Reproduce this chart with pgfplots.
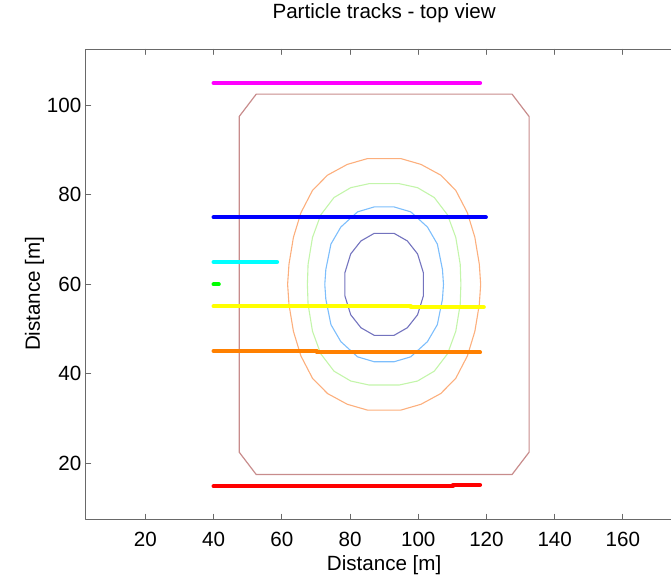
\documentclass[border=0pt]{standalone}
\usepackage{fontspec}
\setmainfont{Liberation Sans}
\usepackage{pgfplots}
\pgfplotsset{compat=1.18}

\definecolor{axgray}{RGB}{105,105,105}
\definecolor{bldg}{RGB}{200,140,140}
\definecolor{cOrange}{RGB}{252,175,125}
\definecolor{cGreen}{RGB}{195,245,170}
\definecolor{cBlue}{RGB}{125,190,252}
\definecolor{cPurple}{RGB}{115,115,190}
\definecolor{tMagenta}{RGB}{255,0,255}
\definecolor{tBlue}{RGB}{0,0,255}
\definecolor{tCyan}{RGB}{0,255,255}
\definecolor{tGreen}{RGB}{0,255,0}
\definecolor{tYellow}{RGB}{255,255,0}
\definecolor{tOrange}{RGB}{255,128,0}
\definecolor{tRed}{RGB}{255,0,0}

\begin{document}
\begin{tikzpicture}
\begin{axis}[
  at={(0,0)}, anchor=origin,
  scale only axis,
  width=298.45pt, height=234.95pt,
  xmin=2.5, xmax=177.5, ymin=7.5, ymax=112.5,
  xtick={20,40,...,160}, ytick={20,40,...,100},
  tick align=inside, major tick length=2.5pt,
  axis line style={axgray, line width=0.6pt},
  every tick/.style={axgray, line width=0.5pt},
  font=\fontsize{10.3}{12}\selectfont,
  /pgf/number format/assume math mode=true,
  xticklabel style={inner sep=0pt, anchor=base, yshift=-13.7pt},
  yticklabel style={inner sep=0pt, anchor=east, xshift=-2pt},
  xlabel={Distance [m]}, ylabel={Distance [m]},
  xlabel style={inner sep=0pt, anchor=base, at={(axis description cs:0.5,0)}, yshift=-25.7pt},
  ylabel style={inner sep=0pt, anchor=base, at={(axis description cs:0,0.48)}, yshift=22.85pt},
  title={Particle tracks - top view},
  title style={inner sep=0pt, anchor=base, at={(axis description cs:0.5,1)}, yshift=9.35pt},
  line cap=round, line join=round,
]
% building outline
\addplot[bldg, line width=0.6pt] coordinates {
  (47.5,22.5) (52.5,17.5) (127.5,17.5) (132.5,22.5) (132.5,97.5)
  (127.5,102.5) (52.5,102.5) (47.5,97.5) (47.5,22.5)};
% contours
\addplot[cOrange, line width=0.55pt] coordinates {
  (85.1,88.1) (94.9,88.1) (100.8,86.8) (106.6,84.4) (111,81) (114.4,76)
  (116.6,70.5) (117.9,64.5) (118.3,60) (117.9,55.5) (116.6,49.5) (114.4,44)
  (111,39) (106.6,35.6) (100.8,33.2) (94.9,31.9) (85.1,31.9) (79.2,33.2)
  (73.4,35.6) (69,39) (65.6,44) (63.4,49.5) (62.1,55.5) (61.7,60)
  (62.1,64.5) (63.4,70.5) (65.6,76) (69,81) (73.4,84.4) (79.2,86.8) (85.1,88.1)};
\addplot[cGreen, line width=0.55pt] coordinates {
  (85.6,82.5) (94.4,82.5) (99.8,81.6) (104.7,79.4) (108.6,75.5) (111,70.5)
  (112.3,64.5) (112.5,60) (112.3,55.5) (111,49.5) (108.6,44.5) (104.7,40.6)
  (99.8,38.4) (94.4,37.5) (85.6,37.5) (80.2,38.4) (75.3,40.6) (71.4,44.5)
  (69,49.5) (67.7,55.5) (67.5,60) (67.7,64.5) (69,70.5) (71.4,75.5)
  (75.3,79.4) (80.2,81.6) (85.6,82.5)};
\addplot[cBlue, line width=0.55pt] coordinates {
  (87.1,77.3) (92.9,77.3) (97.8,76.2) (102.7,72.8) (105.6,69) (107.1,63.3)
  (107.4,60) (107.1,56.7) (105.6,51) (102.7,47.2) (97.8,43.8) (92.9,42.7)
  (87.1,42.7) (82.2,43.8) (77.3,47.2) (74.4,51) (72.9,56.7) (72.6,60)
  (72.9,63.3) (74.4,69) (77.3,72.8) (82.2,76.2) (87.1,77.3)};
\addplot[cPurple, line width=0.55pt] coordinates {
  (87.1,71.4) (92.9,71.4) (96.8,69.7) (99.8,66.8) (101.5,62.6) (101.5,57.4)
  (99.8,53.2) (96.8,50.3) (92.9,48.6) (87.1,48.6) (83.2,50.3) (80.2,53.2)
  (78.5,57.4) (78.5,62.6) (80.2,66.8) (83.2,69.7) (87.1,71.4)};
% particle tracks
\addplot[tMagenta, line width=2.1pt] coordinates {(40,105) (118.1,105)};
\addplot[tBlue, line width=2.1pt] coordinates {(40,75) (119.8,75)};
\addplot[tCyan, line width=2.1pt] coordinates {(40,65) (58.6,65)};
\addplot[tGreen, line width=2.1pt] coordinates {(40,60) (41.5,60)};
\addplot[tYellow, line width=2.1pt] coordinates {(40,55.1) (97.8,55.1) (97.8,54.9) (119.2,54.9)};
\addplot[tOrange, line width=2.1pt] coordinates {(40,45.1) (70.2,45.1) (70.2,44.8) (118.1,44.8)};
\addplot[tRed, line width=2.1pt] coordinates {(40,14.9) (110.2,14.9) (110.2,15.2) (118.1,15.2)};
\end{axis}
\pgfresetboundingbox
\path (-42.85pt,-28.85pt) rectangle (292.65pt,259.65pt);
\end{tikzpicture}
\end{document}
